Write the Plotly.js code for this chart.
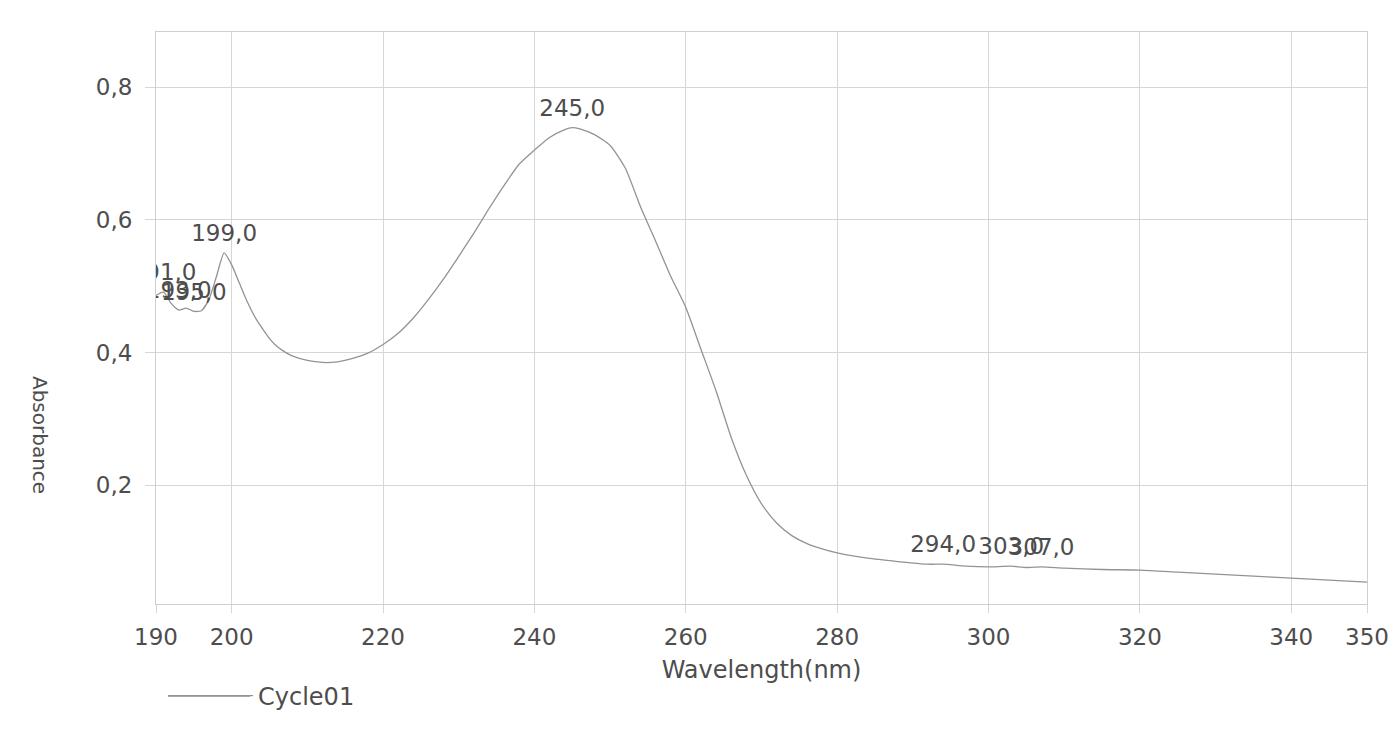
<!DOCTYPE html>
<html>
<head>
<meta charset="utf-8">
<script src="https://cdn.plot.ly/plotly-3.0.1.min.js"></script>
<style>html,body{margin:0;padding:0;background:#fff;}#chart{width:1395px;height:731px;}</style>
</head>
<body>
<div id="chart"></div>
<script>
// Wavelength (nm)
const wavelength = [190,191,192,193,194,195,196,197,198,199,200,201,202,203,204,205,206,207,208,210,212,214,216,218,220,222,224,226,228,230,232,234,236,238,240,242,244,245,246,248,250,252,254,256,258,260,262,264,266,268,270,272,274,276,278,280,284,288,292,294,297,300,303,305,307,310,315,320,325,330,335,340,345,350];
// Absorbance
const absorbance = [0.486,0.491,0.474,0.464,0.467,0.462,0.463,0.480,0.515,0.550,0.532,0.505,0.478,0.455,0.437,0.421,0.409,0.401,0.395,0.388,0.385,0.386,0.391,0.399,0.412,0.429,0.452,0.480,0.511,0.545,0.580,0.617,0.652,0.684,0.705,0.724,0.736,0.739,0.737,0.728,0.712,0.678,0.620,0.568,0.515,0.468,0.405,0.342,0.272,0.215,0.172,0.143,0.124,0.112,0.104,0.098,0.090,0.085,0.081,0.081,0.078,0.077,0.078,0.076,0.077,0.075,0.073,0.072,0.069,0.066,0.063,0.060,0.057,0.054];
// Peak / valley picks
const pickWavelength = [191,193,195,199,245,294,303,307];
const pickText = ["191,0","193,0","195,0","199,0","245,0","294,0","303,0","307,0"];
// Axis ticks
const xTickVals = [190,200,220,240,260,280,300,320,340,350];
const xTickText = ["190","200","220","240","260","280","300","320","340","350"];
const yTickVals = [0.2,0.4,0.6,0.8];
const yTickText = ["0,2","0,4","0,6","0,8"];
const seriesName = "Cycle01";

const pickAbs = pickWavelength.map(w => absorbance[wavelength.indexOf(w)]);

const FONT = "DejaVu Sans, Arial, sans-serif";
const TXT = "#4d4d4d";
const GRID = "#d6d6d6";
const CURVE = "#939393";

const traces = [
  {
    x: wavelength, y: absorbance, type: "scatter", mode: "lines",
    name: seriesName,
    line: {color: CURVE, width: 1.3, shape: "spline", smoothing: 0.6},
    showlegend: true
  },
  {
    x: pickWavelength, y: pickAbs, type: "scatter", mode: "markers+text",
    text: pickText, textposition: "top center",
    marker: {size: 8, opacity: 0, color: CURVE},
    textfont: {family: FONT, size: 23, color: TXT},
    cliponaxis: true, showlegend: false, hoverinfo: "skip"
  }
];

const layout = {
  width: 1395, height: 731,
  paper_bgcolor: "#ffffff", plot_bgcolor: "#ffffff",
  margin: {l: 156, r: 28, t: 32, b: 127},
  font: {family: FONT, color: TXT, size: 23},
  xaxis: {
    range: [190, 350],
    tickmode: "array", tickvals: xTickVals, ticktext: xTickText,
    ticks: "outside", ticklen: 8, tickcolor: GRID,
    ticklabelstandoff: 4,
    showgrid: true, gridcolor: GRID, gridwidth: 1,
    showline: true, linecolor: "#cfcfcf", linewidth: 1, mirror: true,
    zeroline: false,
    tickfont: {family: FONT, size: 23, color: TXT},
    title: {text: "Wavelength(nm)", font: {family: FONT, size: 24, color: TXT}, standoff: 12}
  },
  yaxis: {
    range: [0.021, 0.883],
    tickmode: "array", tickvals: yTickVals, ticktext: yTickText,
    ticks: "outside", ticklen: 10, tickcolor: GRID,
    ticklabelstandoff: 8,
    showgrid: true, gridcolor: GRID, gridwidth: 1,
    showline: true, linecolor: "#cfcfcf", linewidth: 1, mirror: true,
    zeroline: false,
    tickfont: {family: FONT, size: 23, color: TXT}
  },
  legend: {
    x: 0.0058, y: -0.161, xanchor: "left", yanchor: "middle",
    orientation: "h", bgcolor: "rgba(0,0,0,0)", itemwidth: 85,
    font: {family: FONT, size: 24, color: TXT}
  },
  shapes: [
    {type: "line", xref: "paper", yref: "paper",
     x0: 0.0099, x1: 0.0776, y0: -0.161, y1: -0.161,
     line: {color: CURVE, width: 1.3}}
  ],
  annotations: [
    {
      text: "Absorbance", xref: "paper", yref: "paper",
      x: -0.0958, y: 0.2955, xanchor: "center", yanchor: "middle",
      textangle: 90, showarrow: false,
      font: {family: FONT, size: 20, color: TXT}
    }
  ]
};

Plotly.newPlot("chart", traces, layout, {displayModeBar: false, staticPlot: true});
</script>
</body>
</html>
